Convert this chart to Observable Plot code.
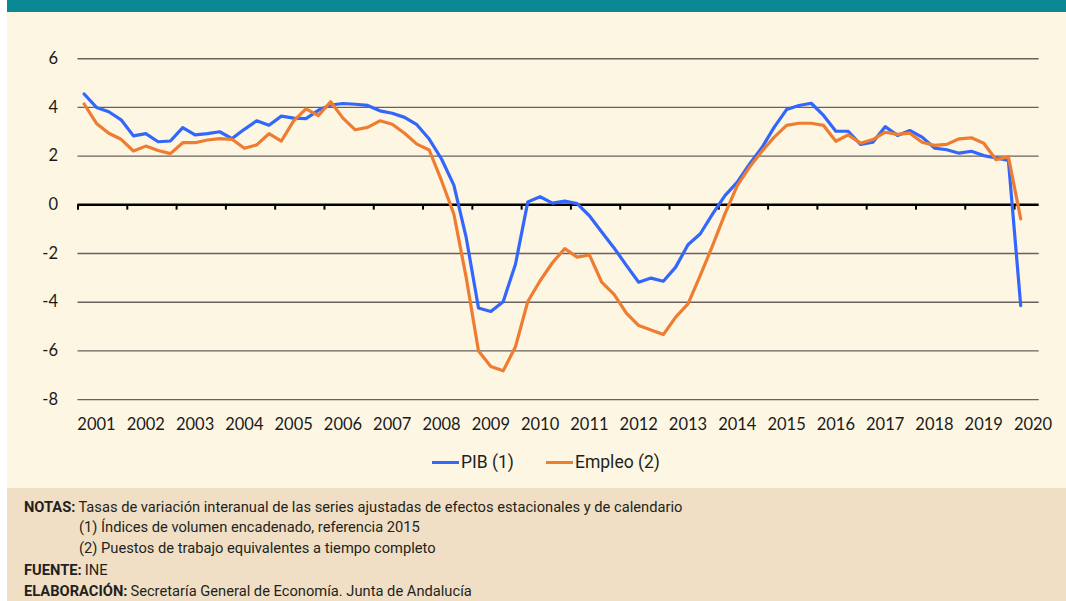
<!DOCTYPE html>
<html><head><meta charset="utf-8">
<script src="https://cdn.jsdelivr.net/npm/d3@7"></script>
<script src="https://cdn.jsdelivr.net/npm/@observablehq/plot@0.6"></script>
<style>
body{margin:0;background:#fff;}
#wrap{position:relative;width:1066px;height:601px;overflow:hidden;font-family:Roboto,"Open Sans",sans-serif;color:#231f20;}
#bar{position:absolute;left:7px;top:0;width:1059px;height:12px;background:#0a8995;}
#bg{position:absolute;left:7px;top:12px;width:1059px;height:476px;background:#fdf6e3;}
#notes{position:absolute;left:7px;top:488px;width:1059px;height:113px;background:#f0dfc5;}
#chart{position:absolute;left:0;top:0;}
.leg{position:absolute;top:452px;font-size:17.5px;line-height:21px;color:#231f20;white-space:nowrap;}
.leg span.sw{display:inline-block;width:27px;height:3.5px;vertical-align:middle;margin-right:2px;position:relative;top:-1px;}
.nl{position:absolute;font-size:14.7px;line-height:17px;white-space:nowrap;color:#231f20;}
.nl b{font-weight:700;margin-right:3px;}
</style>
</head><body>
<div id="wrap">
  <div id="bar"></div>
  <div id="bg"></div>
  <div id="notes"></div>
  <div id="chart"></div>
  <div class="leg" id="leg1" style="left:432px;"></div>
  <div class="leg" id="leg2" style="left:546px;"></div>
  <div class="nl" style="left:24px;top:499px;"><b>NOTAS:</b>Tasas de variación interanual de las series ajustadas de efectos estacionales y de calendario</div>
  <div class="nl" style="left:79px;top:519px;">(1) Índices de volumen encadenado, referencia 2015</div>
  <div class="nl" style="left:79px;top:540px;">(2) Puestos de trabajo equivalentes a tiempo completo</div>
  <div class="nl" style="left:24px;top:562px;"><b>FUENTE:</b>INE</div>
  <div class="nl" style="left:24px;top:583px;"><b>ELABORACIÓN:</b>Secretaría General de Economía. Junta de Andalucía</div>
</div>
<script>
// Years on the category axis (each year = 4 quarters)
const years = [2001,2002,2003,2004,2005,2006,2007,2008,2009,2010,2011,2012,2013,2014,2015,2016,2017,2018,2019,2020];
const yTicks = [-8,-6,-4,-2,0,2,4,6];
const seriesNames = ["PIB (1)", "Empleo (2)"];
const seriesColors = ["#3367fb", "#ee7d31"];

// Quarterly year-on-year rates, 2001Q1 .. 2020Q1
const pib = [
  4.55,4.00,3.82,3.49, 2.83,2.92,2.59,2.62, 3.17,2.87,2.92,3.00, 2.72,3.10,3.45,3.27,
  3.64,3.56,3.54,3.88, 4.10,4.16,4.13,4.08, 3.86,3.76,3.59,3.29, 2.70,1.88,0.81,-1.34,
  -4.24,-4.38,-3.98,-2.44, 0.12,0.33,0.07,0.15, 0.05,-0.45,-1.12,-1.77, -2.49,-3.18,-3.01,-3.14,
  -2.56,-1.64,-1.19,-0.37, 0.38,0.93,1.68,2.35, 3.19,3.91,4.08,4.17, 3.67,3.02,3.02,2.48,
  2.57,3.21,2.85,3.05, 2.78,2.33,2.26,2.12, 2.20,2.02,1.92,1.82, -4.14
];
const empleo = [
  4.14,3.34,2.94,2.69, 2.21,2.41,2.23,2.10, 2.55,2.55,2.66,2.72, 2.69,2.32,2.46,2.92,
  2.62,3.45,3.94,3.66, 4.23,3.56,3.08,3.18, 3.45,3.31,2.94,2.49, 2.25,0.99,-0.38,-2.98,
  -6.00,-6.64,-6.82,-5.83, -3.97,-3.12,-2.38,-1.80, -2.15,-2.06,-3.18,-3.68, -4.45,-4.96,-5.14,-5.33,
  -4.61,-4.07,-2.90,-1.67, -0.37,0.79,1.55,2.20, 2.78,3.26,3.35,3.35, 3.26,2.61,2.87,2.53,
  2.68,2.98,2.89,2.94, 2.57,2.44,2.48,2.71, 2.75,2.53,1.85,1.98, -0.58
];

const nSlots = years.length * 4 - 2; // categories on the axis (2020 has two)
const tickPos = years.map((y, i) => i * 4);
const labelPos = years.map((y, i) => i * 4 + 1.5);

const chart = Plot.plot({
  width: 1066,
  height: 488,
  marginLeft: 77.5,
  marginRight: 27.3,
  marginTop: 58.2,
  marginBottom: 88.9,
  style: {background: "transparent", fontFamily: "Lato, 'Open Sans', sans-serif", color: "#1a1a1a"},
  x: {domain: [0, nSlots], axis: null},
  y: {domain: [-8, 6], axis: null},
  marks: [
    Plot.ruleY(yTicks.filter(d => d !== 0), {stroke: "#67625b", strokeWidth: 1.4}),
    Plot.ruleY([0], {stroke: "#000", strokeWidth: 2.4}),
    Plot.ruleX(tickPos, {x: d => d, y1: 0, y2: -0.22, stroke: "#000", strokeWidth: 2}),
    Plot.lineY(pib, {x: (d, i) => i + 0.5, y: d => d, stroke: seriesColors[0], strokeWidth: 3.2}),
    Plot.lineY(empleo, {x: (d, i) => i + 0.5, y: d => d, stroke: seriesColors[1], strokeWidth: 3.2}),
    Plot.axisY({ticks: yTicks, tickSize: 0, tickPadding: 20, fontSize: 16.5, tickFormat: d => String(d)}),
    Plot.axisX({ticks: labelPos, tickSize: 0, tickPadding: 19, fontSize: 16.5, anchor: "bottom",
      tickFormat: d => String(years[Math.round((d - 1.5) / 4)])})
  ]
});
document.getElementById("chart").appendChild(chart);

const legs = [document.getElementById("leg1"), document.getElementById("leg2")];
legs.forEach((el, i) => {
  el.innerHTML = `<span class="sw" style="background:${seriesColors[i]}"></span>${seriesNames[i]}`;
});
</script>
</body></html>
